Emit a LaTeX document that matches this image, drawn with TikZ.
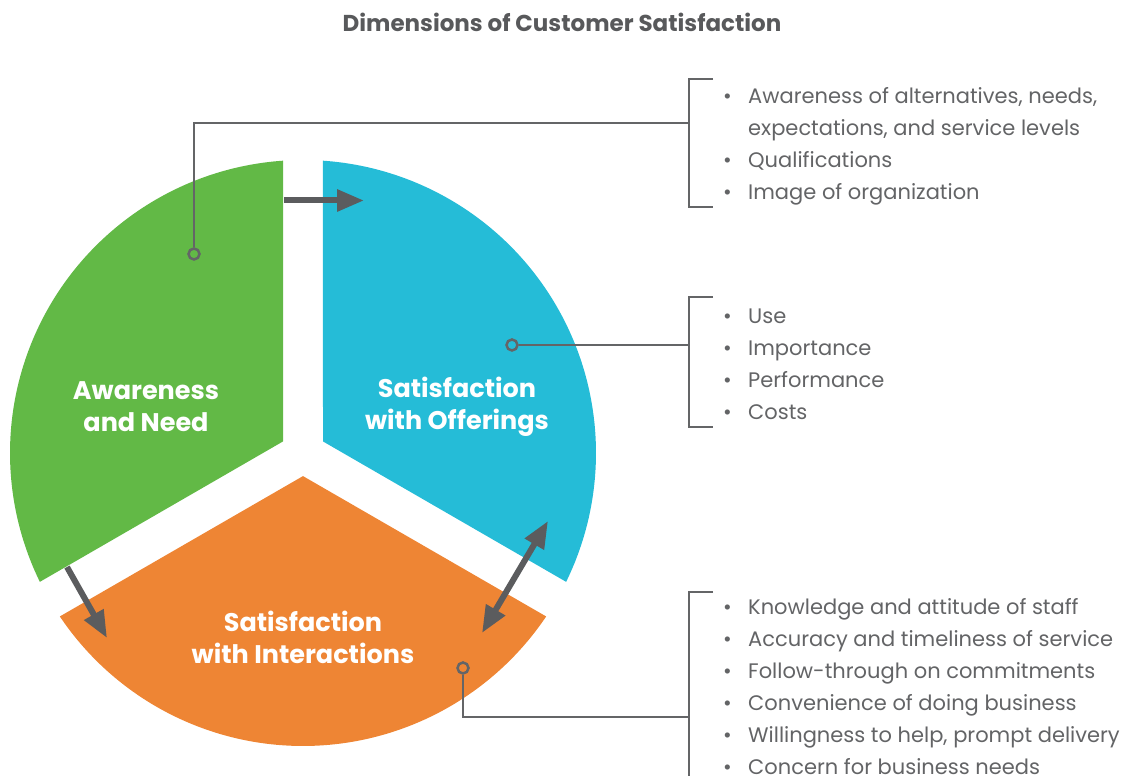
\documentclass[tikz,border=0pt]{standalone}
\usepackage{fontspec}
\setmainfont{Poppins}
\usetikzlibrary{arrows.meta}
\definecolor{cgreen}{HTML}{62B946}
\definecolor{cblue}{HTML}{25BCD7}
\definecolor{corange}{HTML}{EE8534}
\definecolor{darrow}{HTML}{5B5C5E}
\definecolor{cline}{HTML}{646567}
\definecolor{ctext}{HTML}{636466}
\definecolor{ctitle}{HTML}{58595B}
\tikzset{
  sectorlabel/.style={text=white, font=\bfseries\fontsize{25.5}{32}\selectfont, align=center, inner sep=0},
  bullettext/.style={anchor=mid west, inner sep=0, text=ctext, font=\fontsize{21}{25}\selectfont},
  bracket/.style={draw=cline, line width=2.5pt},
  marker/.style={circle, draw=cline, line width=2.5pt, minimum size=11pt, inner sep=0},
  flow/.style={draw=darrow, line width=6pt, -{Triangle[length=27pt,width=21pt]}},
  flowboth/.style={draw=darrow, line width=6pt, {Triangle[length=27pt,width=21pt]}-{Triangle[length=27pt,width=21pt]}},
}
\newcommand{\bul}{\makebox[25pt][l]{\textbullet}}
\newcommand{\nobul}{\makebox[25pt][l]{}}
\begin{document}
\begin{tikzpicture}[x=1pt,y=1pt]
\useasboundingbox (0,0) rectangle (1136,776);
% title
\node[font=\bfseries\fontsize{23}{27}\selectfont, text=ctitle] (title) at (562,754) {Dimensions of Customer Satisfaction};
% sectors (centre 303,323 ; radius 293)
\fill[cgreen] (283,334.55) -- ([shift={(303pt,323pt)}]93.91:293pt) arc[start angle=93.91, end angle=206.09, radius=293pt] -- cycle;
\fill[cblue] (323,334.55) -- ([shift={(303pt,323pt)}]-26.09:293pt) arc[start angle=-26.09, end angle=86.09, radius=293pt] -- cycle;
\fill[corange] (303,299.9) -- ([shift={(303pt,323pt)}]213.91:293pt) arc[start angle=213.91, end angle=326.09, radius=293pt] -- cycle;
% sector labels
\node[sectorlabel] (aw) at (146,369) {Awareness\\and Need};
\node[sectorlabel] (off) at (457,369) {Satisfaction\\with Offerings};
\node[sectorlabel] (int) at (303,139) {Satisfaction\\with Interactions};
% flow arrows
\coordinate (a1s) at (284,575.5);
\coordinate (a1e) at (364,575.5);
\coordinate (a2s) at (67,209);
\coordinate (a2e) at (107,138);
\coordinate (a3s) at (548,255);
\coordinate (a3e) at (482,143);
\draw[flow] (a1s) -- (a1e);
\draw[flow] (a2s) -- (a2e);
\draw[flowboth] (a3s) -- (a3e);
% brackets
\draw[bracket] (713,697) -- (689,697) -- (689,569) -- (713,569);
\draw[bracket] (713,479) -- (689,479) -- (689,349) -- (713,349);
\draw[bracket] (713,184) -- (689,184) -- (689,-5);
\coordinate (k1) at (689,653);
\coordinate (k2) at (689,431);
\coordinate (k3) at (689,59);
% markers and connectors
\node[marker] (m1) at (194,522) {};
\node[marker] (m2) at (512,431) {};
\node[marker] (m3) at (463,108) {};
\draw[bracket] (m1) |- (k1);
\draw[bracket] (m2) -- (k2);
\draw[bracket] (m3) |- (k3);
% bullet lists
\node[bullettext] (b11) at (723,675) {\bul Awareness of alternatives, needs,};
\node[bullettext] (b12) at (723,643) {\nobul expectations, and service levels};
\node[bullettext] (b13) at (723,611) {\bul Qualifications};
\node[bullettext] (b14) at (723,579) {\bul Image of organization};
\node[bullettext] (b21) at (723,455) {\bul Use};
\node[bullettext] (b22) at (723,423) {\bul Importance};
\node[bullettext] (b23) at (723,391) {\bul Performance};
\node[bullettext] (b24) at (723,359) {\bul Costs};
\node[bullettext] (b31) at (723,164) {\bul Knowledge and attitude of staff};
\node[bullettext] (b32) at (723,132) {\bul Accuracy and timeliness of service};
\node[bullettext] (b33) at (723,100) {\bul Follow-through on commitments};
\node[bullettext] (b34) at (723,68) {\bul Convenience of doing business};
\node[bullettext] (b35) at (723,36) {\bul Willingness to help, prompt delivery};
\node[bullettext] (b36) at (723,4) {\bul Concern for business needs};
\end{tikzpicture}
\end{document}
